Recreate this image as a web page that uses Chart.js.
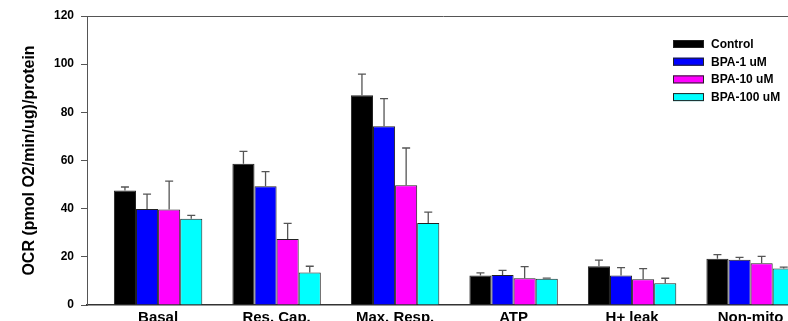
<!DOCTYPE html>
<html>
<head>
<meta charset="utf-8">
<script src="https://cdn.jsdelivr.net/npm/chart.js@4.4.1/dist/chart.umd.min.js"></script>
<style>
  html, body { margin:0; padding:0; overflow:hidden; background:#fff; }
  #wrap { width:800px; height:321px; }
</style>
</head>
<body>
<div id="wrap"><canvas id="ocrChart"></canvas></div>
<script>
const categories = ["Basal", "Res. Cap.", "Max. Resp.", "ATP", "H+ leak", "Non-mito"];
const seriesNames = ["Control", "BPA-1 uM", "BPA-10 uM", "BPA-100 uM"];
const seriesColors = ["#000000", "#0000ff", "#ff00ff", "#00ffff"];

const controlVals = [47.5, 58.6, 87.1, 12.3, 16.1, 19.2];
const bpa1Vals    = [39.9, 49.3, 74.2, 12.5, 12.3, 18.8];
const bpa10Vals   = [39.7, 27.4, 49.7, 11.1, 10.7, 17.3];
const bpa100Vals  = [35.8, 13.5, 34.1, 10.9,  9.0, 15.2];

const controlErr = [1.5, 5.2,  8.8, 1.0, 2.5, 1.7];
const bpa1Err    = [6.1, 6.1, 11.5, 1.9, 3.2, 1.0];
const bpa10Err   = [11.7, 6.5, 15.5, 4.8, 4.4, 2.9];
const bpa100Err  = [1.4, 2.6,  4.5, 0.3, 2.1, 0.5];

const yTicks = [0, 20, 40, 60, 80, 100, 120];

const allVals = [controlVals, bpa1Vals, bpa10Vals, bpa100Vals];
const allErr = [controlErr, bpa1Err, bpa10Err, bpa100Err];

const FONT = "Arial, 'Liberation Sans', sans-serif";

// error bars (upper only) drawn on top of the bars
const errorBars = {
  id: "errorBars",
  afterDatasetsDraw(chart){
    const ctx = chart.ctx;
    const y = chart.scales.y;
    ctx.save();
    ctx.beginPath();
    ctx.rect(chart.chartArea.left, chart.chartArea.top - 10, chart.chartArea.width, chart.chartArea.height + 10);
    ctx.clip();
    ctx.strokeStyle = "#555";
    ctx.lineWidth = 1.3;
    chart.data.datasets.forEach((ds, d)=>{
      const meta = chart.getDatasetMeta(d);
      meta.data.forEach((bar, i)=>{
        const v = ds.data[i].y, e = ds.errors[i];
        const top = y.getPixelForValue(v + e);
        ctx.beginPath();
        ctx.moveTo(bar.x, bar.y);
        ctx.lineTo(bar.x, top);
        ctx.moveTo(bar.x - 4, top);
        ctx.lineTo(bar.x + 4, top);
        ctx.stroke();
      });
    });
    ctx.restore();
  }
};

// top frame line + legend inside the plot
const frameAndLegend = {
  id: "frameAndLegend",
  afterDraw(chart){
    const ctx = chart.ctx;
    const a = chart.chartArea;
    ctx.save();
    ctx.strokeStyle = "#555";
    ctx.lineWidth = 1;
    ctx.beginPath();
    ctx.moveTo(a.left, a.top + 0.5);
    ctx.lineTo(a.right, a.top + 0.5);
    ctx.stroke();

    ctx.font = "bold 12px " + FONT;
    ctx.textBaseline = "middle";
    ctx.fillStyle = "#000";
    chart.data.datasets.forEach((ds, d)=>{
      const cy = 44 + d * 17.7;
      ctx.fillStyle = ds.backgroundColor;
      ctx.fillRect(673, cy - 4, 31, 8);
      ctx.strokeStyle = "#222";
      ctx.strokeRect(673.5, cy - 3.5, 30, 7);
      ctx.fillStyle = "#000";
      ctx.fillText(ds.label, 711, cy + 0.5);
    });
    ctx.restore();
  }
};

const datasets = seriesNames.map((name, s)=>({
  label: name,
  data: categories.map((c, i)=>({ x: i, y: allVals[s][i] })),
  errors: allErr[s],
  backgroundColor: seriesColors[s],
  borderColor: "#222",
  borderWidth: 1,
  barPercentage: 1.0,
  categoryPercentage: 0.746
}));

new Chart(document.getElementById("ocrChart"), {
  type: "bar",
  data: { datasets },
  options: {
    responsive: true,
    maintainAspectRatio: false,
    animation: false,
    layout: { padding: { top: 16, right: 0, bottom: 0, left: 0 } },
    plugins: {
      legend: { display: false },
      tooltip: { enabled: false }
    },
    scales: {
      x: {
        type: "linear",
        bounds: "data",
        offset: false,
        min: -0.6,
        max: 5.417,
        afterBuildTicks: (s)=>{ s.ticks = categories.map((c, i)=>({ value: i })); },
        grid: { display: false, drawTicks: false, offset: false },
        border: { display: true, color: "#333", width: 1.5 },
        ticks: {
          autoSkip: false,
          maxRotation: 0,
          padding: 4,
          color: "#000",
          font: { family: FONT, size: 15, weight: "bold" },
          callback: (v)=> categories[v] ?? ""
        },
        afterFit: (s)=>{ s.height = 16; }
      },
      y: {
        min: 0,
        max: 120,
        afterBuildTicks: (s)=>{ s.ticks = yTicks.map(v=>({ value: v })); },
        grid: { drawOnChartArea: false, drawTicks: true, tickLength: 6, color: "#555" },
        border: { display: true, color: "#555", width: 1 },
        ticks: {
          padding: 7,
          color: "#000",
          font: { family: FONT, size: 12, weight: "bold" }
        },
        title: {
          display: true,
          text: "OCR (pmol O2/min/ug)/protein",
          color: "#000",
          font: { family: FONT, size: 16, weight: "bold" },
          padding: { top: 20, bottom: 0 }
        },
        afterFit: (s)=>{ s.width = 87; }
      }
    }
  },
  plugins: [errorBars, frameAndLegend]
});
</script>
</body>
</html>
